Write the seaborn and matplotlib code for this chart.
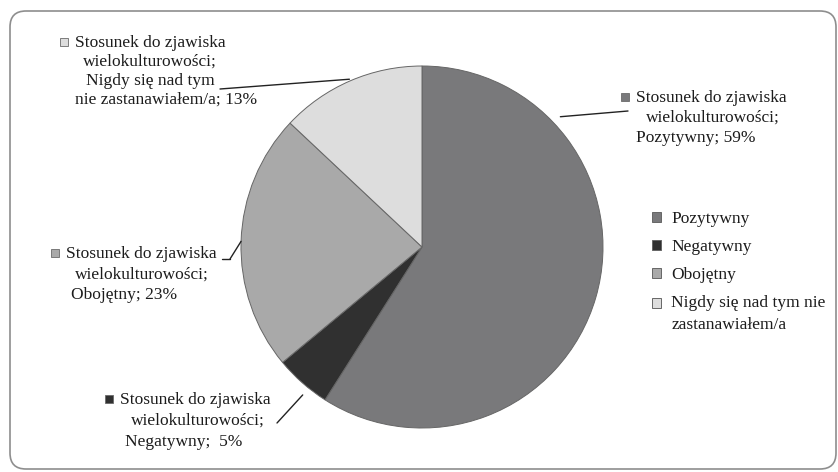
import numpy as np
import matplotlib
matplotlib.use("Agg")
import matplotlib.pyplot as plt
import seaborn as sns
from matplotlib.transforms import Affine2D, IdentityTransform
from matplotlib.patches import FancyBboxPatch, Rectangle
from matplotlib.lines import Line2D

# ---------------- data ----------------
categories = ["Pozytywny", "Negatywny", "Obojętny",
              "Nigdy się nad tym nie zastanawiałem/a"]
legend_labels = ["Pozytywny", "Negatywny", "Obojętny",
                 "Nigdy się nad tym nie\nzastanawiałem/a"]
values = [59, 5, 23, 13]
series_name = ["Stosunek do zjawiska", "wielokulturowości;"]
category_lines = [["Pozytywny"], ["Negatywny"], ["Obojętny"],
                  ["Nigdy się nad tym", "nie zastanawiałem/a"]]
colors = sns.color_palette(["#79797b", "#303030", "#a9a9a9", "#dddddd"])

# ---------------- layout ----------------
sns.set_theme(style="white")
plt.rcParams["font.family"] = ["Liberation Serif", "DejaVu Serif"]
W, H = 838, 472
FS = 12.5
TXT = "#1c1c1c"
fig = plt.figure(figsize=(W / 100, H / 100), dpi=100)
fig.patch.set_facecolor("white")
pix = Affine2D().scale(1 / W, -1 / H).translate(0, 1) + fig.transFigure

cx, cy, R = 422, 247, 181
ax = fig.add_axes([(cx - R) / W, (H - cy - R) / H, 2 * R / W, 2 * R / H])
wedges, _ = ax.pie(values, colors=colors, startangle=90, counterclock=False,
                   radius=1.0,
                   wedgeprops=dict(edgecolor="#666666", linewidth=0.7))
ax.set_xlim(-1, 1)
ax.set_ylim(-1, 1)
ax.set_aspect("equal")
ax.axis("off")

# outer frame
fig.add_artist(FancyBboxPatch((10, 3), 826, 458,
                              boxstyle="round,pad=0,rounding_size=16",
                              transform=IdentityTransform(),
                              facecolor="none", edgecolor="#8e8e8e",
                              linewidth=1.2))

# legend
leg = ax.legend(wedges, legend_labels, loc="upper left",
                bbox_to_anchor=(652, 211), bbox_transform=pix, frameon=False,
                fontsize=FS, labelcolor=TXT, handlelength=0.5,
                handleheight=0.5, handletextpad=0.6, labelspacing=0.7,
                borderpad=0, borderaxespad=0)
for t in leg.get_texts():
    t.set_linespacing(1.5)
# align the handle of the two-line entry with its first line
h4 = leg.legend_handles[3]
h4.set_y(h4.get_y() + 8.2)

# data labels: per-line centre x, first line y, line step
label_x = [[711, 713, 696], [195, 198, 184], [141, 142, 124],
           [150, 150, 150, 166]]
label_y = [(98, 20), (400, 21), (254, 20.5), (43, 19)]
leader_text_end = [(628, 111), (277, 423), (230, 259), (220, 89)]
anchor_frac = [0.22, 0.36, 0.5, 0.5]
anchor_r = [1.05, 1.05, 1.0, 1.01]

first_texts = []
for i, (cat_lines, v) in enumerate(zip(category_lines, values)):
    lines = list(series_name) + list(cat_lines)
    lines[-1] = f"{lines[-1]}; {v:>2}%"
    y0, step = label_y[i]
    for k, s in enumerate(lines):
        t = fig.text(label_x[i][k] / W, 1 - (y0 + k * step) / H, s,
                     ha="center", va="center", fontsize=FS, color=TXT)
        if k == 0:
            first_texts.append(t)

    # leader line
    w = wedges[i]
    t1, t2 = w.theta1, w.theta2
    ang = np.deg2rad(t2 - anchor_frac[i] * (t2 - t1))
    px, py = anchor_r[i] * np.cos(ang), anchor_r[i] * np.sin(ang)
    ax.annotate("", xy=(px, py), xycoords="data",
                xytext=leader_text_end[i], textcoords=pix,
                arrowprops=dict(arrowstyle="-", color="#222222", lw=1.0,
                                shrinkA=0, shrinkB=0))

# small stub for Obojętny leader
fig.add_artist(Line2D([222, 230], [259, 259], transform=pix,
                      color="#222222", lw=1.0))

# markers next to first label lines
fig.canvas.draw()
renderer = fig.canvas.get_renderer()
for i, t in enumerate(first_texts):
    bb = t.get_window_extent(renderer)
    ymid = (bb.y0 + bb.y1) / 2 + 1
    size = 8
    fig.add_artist(Rectangle((bb.x0 - 7 - size, ymid - size / 2), size, size,
                             transform=IdentityTransform(),
                             facecolor=colors[i], edgecolor="#6a6a6a",
                             linewidth=0.6))

fig.savefig("out.png", dpi=100, facecolor="white")
